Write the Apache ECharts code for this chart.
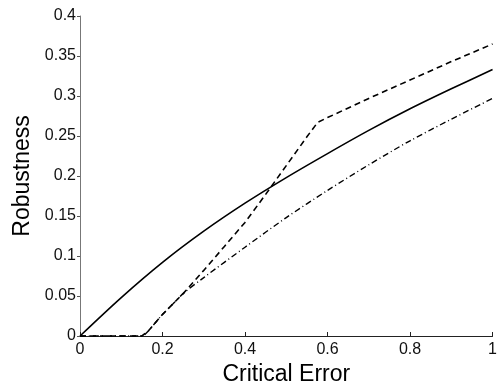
<!DOCTYPE html>
<html>
<head>
<meta charset="utf-8">
<script src="https://cdn.jsdelivr.net/npm/echarts@6/dist/echarts.min.js"></script>
<style>
  html, body { margin: 0; padding: 0; background: #fff; }
  #chart { width: 500px; height: 391px; }
</style>
</head>
<body>
<div id="chart"></div>
<script>
// solid curve
const solidX = [0, 0.1, 0.2, 0.3, 0.4, 0.5, 0.6, 0.7, 0.8, 0.9, 1.0]
const solidY = [0, 0.048, 0.092, 0.131, 0.166, 0.198, 0.228, 0.257, 0.284, 0.309, 0.333]

// dashed curve (kink near 0.576)
const dashX = [0, 0.15, 0.165, 0.18, 0.2, 0.225, 0.25, 0.3, 0.35, 0.4, 0.45, 0.5, 0.55, 0.576, 0.6, 0.7, 0.8, 0.9, 1.0]
const dashY = [0, 0, 0.006, 0.015, 0.027, 0.04, 0.053, 0.082, 0.112, 0.142, 0.177, 0.213, 0.249, 0.267, 0.273, 0.297, 0.32, 0.343, 0.365]

// dash-dot curve
const dotX = [0, 0.15, 0.165, 0.18, 0.2, 0.225, 0.25, 0.3, 0.4, 0.5, 0.6, 0.7, 0.8, 0.9, 1.0]
const dotY = [0, 0, 0.006, 0.015, 0.027, 0.04, 0.053, 0.073, 0.111, 0.148, 0.182, 0.214, 0.244, 0.271, 0.297]

const xTicks = [0, 0.2, 0.4, 0.6, 0.8, 1]
const yTicks = [0, 0.05, 0.1, 0.15, 0.2, 0.25, 0.3, 0.35, 0.4]

const pairs = (xs, ys) => xs.map((x, i) => [x, ys[i]])
const fmt = v => (Math.round(v * 100) / 100).toString()

const chart = echarts.init(document.getElementById('chart'))

const font = 'Liberation Sans, Arial, Helvetica, sans-serif'

chart.setOption({
  animation: false,
  grid: { left: 80, right: 3, top: 16, bottom: 48, containLabel: false },
  xAxis: {
    type: 'value',
    min: 0,
    max: 1,
    interval: 0.2,
    name: 'Critical Error',
    nameLocation: 'middle',
    nameGap: 27,
    nameTextStyle: { fontFamily: font, fontSize: 23, color: '#000' },
    axisLine: { show: true, lineStyle: { color: '#222', width: 1 } },
    axisTick: { show: true, inside: true, length: 4, lineStyle: { color: '#222' } },
    axisLabel: {
      fontFamily: font, fontSize: 16, color: '#111', margin: 6,
      formatter: v => xTicks.includes(+fmt(v)) ? fmt(v) : ''
    },
    splitLine: { show: false }
  },
  yAxis: {
    type: 'value',
    min: 0,
    max: 0.4,
    interval: 0.05,
    name: 'Robustness',
    nameLocation: 'middle',
    nameGap: 43,
    nameTextStyle: { fontFamily: font, fontSize: 23, color: '#000' },
    axisLine: { show: true, lineStyle: { color: '#777', width: 1 } },
    axisTick: { show: true, inside: false, length: 3, lineStyle: { color: '#555' } },
    axisLabel: {
      fontFamily: font, fontSize: 16, color: '#111', margin: 4,
      formatter: v => yTicks.includes(+fmt(v)) ? fmt(v) : ''
    },
    splitLine: { show: false }
  },
  series: [
    {
      name: 'solid',
      type: 'line',
      data: pairs(solidX, solidY),
      showSymbol: false,
      smooth: 0.3,
      lineStyle: { color: '#000', width: 1.6, type: 'solid' }
    },
    {
      name: 'dashed',
      type: 'line',
      data: pairs(dashX, dashY),
      showSymbol: false,
      lineStyle: { color: '#000', width: 1.6, type: [6, 4] }
    },
    {
      name: 'dashdot',
      type: 'line',
      data: pairs(dotX, dotY),
      showSymbol: false,
      smooth: 0.3,
      lineStyle: { color: '#000', width: 1.4, type: [6, 3, 1, 3] }
    }
  ]
})
</script>
</body>
</html>
